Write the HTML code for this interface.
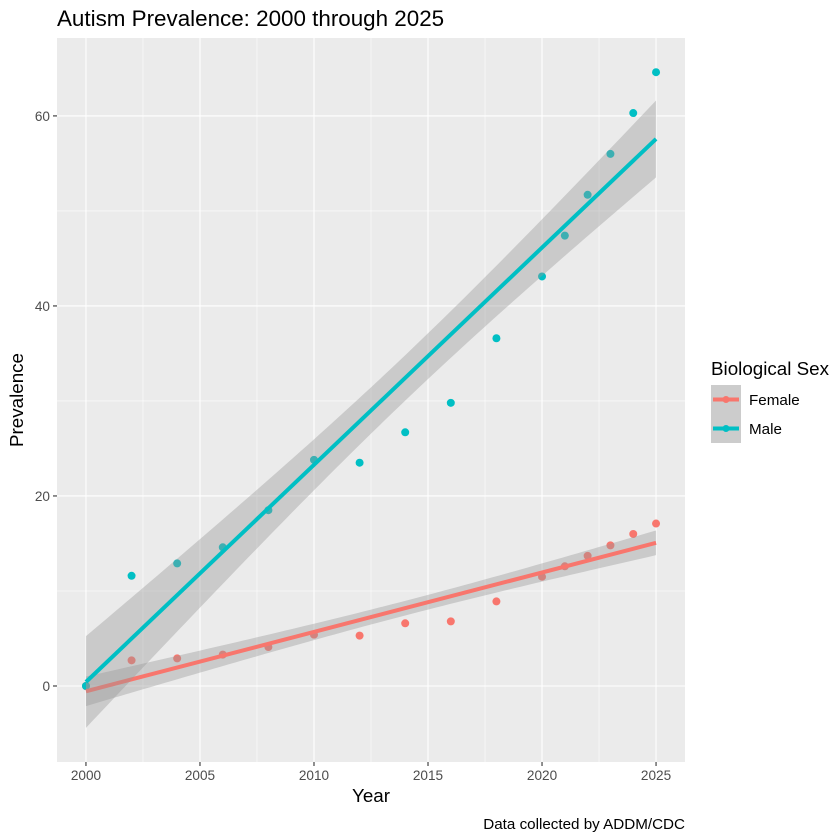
<!DOCTYPE html>
<html><head><meta charset="utf-8"><style>
body{margin:0;background:#fff;}
svg{display:block;font-family:"Liberation Sans",sans-serif;}
</style></head><body>
<svg id="chart" width="840" height="840">
<rect width="840" height="840" fill="#fff"/>
<text x="57" y="26" font-size="22.4">Autism Prevalence: 2000 through 2025</text>
<g id="panel"></g>
<text x="371" y="802" font-size="18.8" text-anchor="middle">Year</text>
<text transform="translate(23,400) rotate(-90)" font-size="18.8" text-anchor="middle">Prevalence</text>
<text x="685" y="829" font-size="15.2" text-anchor="end">Data collected by ADDM/CDC</text>
<g>
<text x="711" y="375" font-size="18.8">Biological Sex</text>
<g>
<rect x="711" y="385" width="30" height="29" fill="#cccccc"/>
<line x1="713" y1="399.5" x2="739" y2="399.5" stroke="#F8766D" stroke-width="4"/>
<circle cx="726" cy="399.5" r="3.5" fill="#F8766D"/>
<text x="749" y="405" font-size="15.2">Female</text></g>
<g>
<rect x="711" y="414" width="30" height="29" fill="#cccccc"/>
<line x1="713" y1="428.5" x2="739" y2="428.5" stroke="#00BFC4" stroke-width="4"/>
<circle cx="726" cy="428.5" r="3.5" fill="#00BFC4"/>
<text x="749" y="434" font-size="15.2">Male</text></g>
</g>
</svg>
<script>
const years=[2000,2002,2004,2006,2008,2010,2012,2014,2016,2018,2020,2021,2022,2023,2024,2025];
const maleValues=[0,11.6,12.9,14.6,18.5,23.8,23.5,26.7,29.8,36.6,43.1,47.4,51.7,56.0,60.3,64.6];
const femaleValues=[0,2.7,2.9,3.3,4.1,5.4,5.3,6.6,6.8,8.9,11.5,12.6,13.7,14.8,16.0,17.1];
const xTicks=[2000,2005,2010,2015,2020,2025];
const yTicks=[0,20,40,60];
const xMinor=[2002.5,2007.5,2012.5,2017.5,2022.5];
const yMinor=[-10,10,30,50];
const NS="http://www.w3.org/2000/svg";
const L=57,R=685,T=38,B=762;
const xmin=1998.73,xmax=2026.27,ymin=-8,ymax=68.2;
const sx=v=>L+(v-xmin)/(xmax-xmin)*(R-L);
const sy=v=>B-(v-ymin)/(ymax-ymin)*(B-T);
const g=document.getElementById('panel');
function mk(tag,attrs,parent){const e=document.createElementNS(NS,tag);for(const k in attrs)e.setAttribute(k,attrs[k]);(parent||g).appendChild(e);return e;}
const bg=mk('rect',{x:L,y:T,width:R-L,height:B-T,fill:'#EBEBEB'});


xMinor.forEach(v=>{const l=mk('line',{x1:sx(v),x2:sx(v),y1:T,y2:B,stroke:'#fff','stroke-width':0.55});});
yMinor.forEach(v=>{if(sy(v)>B)return;const l=mk('line',{x1:L,x2:R,y1:sy(v),y2:sy(v),stroke:'#fff','stroke-width':0.55});});
xTicks.forEach(v=>{const l=mk('line',{x1:sx(v),x2:sx(v),y1:T,y2:B,stroke:'#fff','stroke-width':1.1});
 const t=mk('line',{x1:sx(v),x2:sx(v),y1:B,y2:B+4,stroke:'#333','stroke-width':1.1});
 const tx=mk('text',{x:sx(v),y:B+18,'font-size':13.6,'text-anchor':'middle',fill:'#4D4D4D'});tx.textContent=v;});
yTicks.forEach(v=>{const l=mk('line',{x1:L,x2:R,y1:sy(v),y2:sy(v),stroke:'#fff','stroke-width':1.1});
 const t=mk('line',{x1:L-4,x2:L,y1:sy(v),y2:sy(v),stroke:'#333','stroke-width':1.1});
 const tx=mk('text',{x:L-7,y:sy(v)+5,'font-size':13.6,'text-anchor':'end',fill:'#4D4D4D'});tx.textContent=v;});
function fit(xs,ys){const n=xs.length,mx=xs.reduce((a,b)=>a+b)/n,my=ys.reduce((a,b)=>a+b)/n;let sxx=0,sxy=0;xs.forEach((x,i)=>{sxx+=(x-mx)**2;sxy+=(x-mx)*(ys[i]-my);});const b=sxy/sxx,a=my-b*mx;let sse=0;xs.forEach((x,i)=>{sse+=(ys[i]-a-b*x)**2;});const s=Math.sqrt(sse/(n-2));return{a,b,s,n,mx,sxx};}
function points(vals,color,name){
 years.forEach((x,i)=>{const c=mk('circle',{cx:sx(x),cy:sy(vals[i]),r:4,fill:color});});
}
function smooth(vals,color,name){
 const f=fit(years,vals);const tcrit=2.145;const x0=years[0],x1=years[years.length-1];
 const up=[],lo=[];for(let i=0;i<=80;i++){const x=x0+(x1-x0)*i/80;const y=f.a+f.b*x;const se=f.s*Math.sqrt(1/f.n+(x-f.mx)**2/f.sxx);up.push(sx(x)+','+sy(y+tcrit*se));lo.unshift(sx(x)+','+sy(y-tcrit*se));}
 const band=mk('polygon',{points:up.concat(lo).join(' '),fill:'#999999','fill-opacity':0.4});
 
 const ln=mk('line',{x1:sx(x0),y1:sy(f.a+f.b*x0),x2:sx(x1),y2:sy(f.a+f.b*x1),stroke:color,'stroke-width':4});
 
}
points(femaleValues,'#F8766D','female');
points(maleValues,'#00BFC4','male');
smooth(femaleValues,'#F8766D','female');
smooth(maleValues,'#00BFC4','male');
</script>
</body></html>
